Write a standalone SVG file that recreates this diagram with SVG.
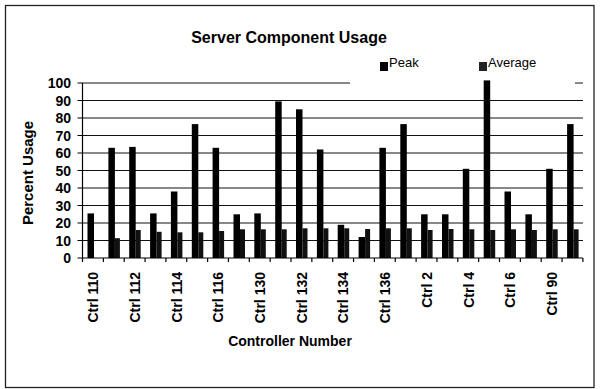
<svg xmlns="http://www.w3.org/2000/svg" width="600" height="389" viewBox="0 0 600 389">
<style>
.t{font-family:"Liberation Sans",Arial,sans-serif;fill:#000}
.b{font-weight:bold}
.grid{stroke:#111;stroke-width:1;fill:none}
.ax{stroke:#000;stroke-width:1.2;fill:none}
.pk{fill:#000}
.av{fill:#111}
</style>
<rect x="5.5" y="5.5" width="588.5" height="382" fill="#fff" stroke="#222" stroke-width="1.3"/>
<g id="title"><text class="t b" x="289" y="43" font-size="16" text-anchor="middle">Server Component Usage</text></g>
<g id="legend">
<rect x="380" y="62" width="8" height="9" class="pk"/>
<text class="t" x="389" y="67" font-size="13">Peak</text>
<rect x="479" y="62" width="8" height="9" fill="#222"/>
<text class="t" x="488" y="67" font-size="13">Average</text>
</g>
<g id="gridlines" class="grid">
<line x1="82.5" y1="83" x2="350" y2="83"/>
<line x1="575" y1="83" x2="583" y2="83"/>
<line x1="82.5" y1="100.5" x2="583" y2="100.5"/>
<line x1="82.5" y1="118" x2="583" y2="118"/>
<line x1="82.5" y1="135.5" x2="583" y2="135.5"/>
<line x1="82.5" y1="153" x2="583" y2="153"/>
<line x1="82.5" y1="170.5" x2="583" y2="170.5"/>
<line x1="82.5" y1="188" x2="583" y2="188"/>
<line x1="82.5" y1="205.5" x2="583" y2="205.5"/>
<line x1="82.5" y1="223" x2="583" y2="223"/>
<line x1="82.5" y1="240.5" x2="583" y2="240.5"/>
</g>
<g id="bars">
<rect class="pk" x="87.5" y="213.4" width="6.5" height="44.6"/>
<rect class="pk" x="108.4" y="147.8" width="6.5" height="110.2"/><rect class="av" x="114.9" y="238.2" width="5" height="19.8"/>
<rect class="pk" x="129.2" y="146.9" width="6.5" height="111.1"/><rect class="av" x="135.7" y="230" width="5" height="28"/>
<rect class="pk" x="150.1" y="213.4" width="6.5" height="44.6"/><rect class="av" x="156.6" y="231.8" width="5" height="26.2"/>
<rect class="pk" x="170.9" y="191.5" width="6.5" height="66.5"/><rect class="av" x="177.4" y="232.3" width="5" height="25.7"/>
<rect class="pk" x="191.8" y="124.1" width="6.5" height="133.9"/><rect class="av" x="198.3" y="232.3" width="5" height="25.7"/>
<rect class="pk" x="212.6" y="147.8" width="6.5" height="110.2"/><rect class="av" x="219.1" y="231" width="5" height="27"/>
<rect class="pk" x="233.5" y="214.3" width="6.5" height="43.7"/><rect class="av" x="240" y="229.3" width="5" height="28.7"/>
<rect class="pk" x="254.3" y="213.4" width="6.5" height="44.6"/><rect class="av" x="260.8" y="229.3" width="5" height="28.7"/>
<rect class="pk" x="275.2" y="101.4" width="6.5" height="156.6"/><rect class="av" x="281.7" y="229.3" width="5" height="28.7"/>
<rect class="pk" x="296" y="109.3" width="6.5" height="148.7"/><rect class="av" x="302.5" y="228.3" width="5" height="29.7"/>
<rect class="pk" x="316.9" y="149.5" width="6.5" height="108.5"/><rect class="av" x="323.4" y="228.3" width="5" height="29.7"/>
<rect class="pk" x="337.7" y="224.8" width="6.5" height="33.2"/><rect class="av" x="344.2" y="228.3" width="5" height="29.7"/>
<rect class="pk" x="358.6" y="237" width="6.5" height="21"/><rect class="av" x="365.1" y="229" width="5" height="29"/>
<rect class="pk" x="379.4" y="147.8" width="6.5" height="110.2"/><rect class="av" x="385.9" y="228.3" width="5" height="29.7"/>
<rect class="pk" x="400.3" y="124.1" width="6.5" height="133.9"/><rect class="av" x="406.8" y="228.3" width="5" height="29.7"/>
<rect class="pk" x="421.1" y="214.3" width="6.5" height="43.7"/><rect class="av" x="427.6" y="230" width="5" height="28"/>
<rect class="pk" x="442" y="214.3" width="6.5" height="43.7"/><rect class="av" x="448.5" y="229" width="5" height="29"/>
<rect class="pk" x="462.8" y="168.8" width="6.5" height="89.2"/><rect class="av" x="469.3" y="229.3" width="5" height="28.7"/>
<rect class="pk" x="483.7" y="80.4" width="6.5" height="177.6"/><rect class="av" x="490.2" y="230" width="5" height="28"/>
<rect class="pk" x="504.5" y="191.5" width="6.5" height="66.5"/><rect class="av" x="511" y="229.3" width="5" height="28.7"/>
<rect class="pk" x="525.4" y="214.3" width="6.5" height="43.7"/><rect class="av" x="531.9" y="230" width="5" height="28"/>
<rect class="pk" x="546.2" y="168.8" width="6.5" height="89.2"/><rect class="av" x="552.7" y="229.3" width="5" height="28.7"/>
<rect class="pk" x="567.1" y="124.1" width="6.5" height="133.9"/><rect class="av" x="573.6" y="229.3" width="5" height="28.7"/>
</g>
<g id="axes" class="ax">
<line x1="82.5" y1="83" x2="82.5" y2="258"/>
<line x1="82.5" y1="258" x2="583" y2="258"/>
<path d="M77.5 83H82.5M77.5 100.5H82.5M77.5 118H82.5M77.5 135.5H82.5M77.5 153H82.5M77.5 170.5H82.5M77.5 188H82.5M77.5 205.5H82.5M77.5 223H82.5M77.5 240.5H82.5M77.5 258H82.5"/>
<path d="M82.5 258V262M103.35 258V262M124.2 258V262M145.05 258V262M165.9 258V262M186.75 258V262M207.6 258V262M228.45 258V262M249.3 258V262M270.15 258V262M291 258V262M311.85 258V262M332.7 258V262M353.55 258V262M374.4 258V262M395.25 258V262M416.1 258V262M436.95 258V262M457.8 258V262M478.65 258V262M499.5 258V262M520.35 258V262M541.2 258V262M562.05 258V262M582.9 258V262"/>
</g>
<g id="y-labels" class="t b" font-size="14" text-anchor="end">
<text x="71" y="88">100</text>
<text x="71" y="105.5">90</text>
<text x="71" y="123">80</text>
<text x="71" y="140.5">70</text>
<text x="71" y="158">60</text>
<text x="71" y="175.5">50</text>
<text x="71" y="193">40</text>
<text x="71" y="210.5">30</text>
<text x="71" y="228">20</text>
<text x="71" y="245.5">10</text>
<text x="71" y="263">0</text>
</g>
<g id="y-title"><text class="t b" font-size="15" text-anchor="middle" transform="translate(33,173) rotate(-90)">Percent Usage</text></g>
<g id="x-labels" class="t b" font-size="14" text-anchor="end">
<text transform="translate(93.2,272) rotate(-90)" y="5">Ctrl 110</text>
<text transform="translate(134.9,272) rotate(-90)" y="5">Ctrl 112</text>
<text transform="translate(176.6,272) rotate(-90)" y="5">Ctrl 114</text>
<text transform="translate(218.3,272) rotate(-90)" y="5">Ctrl 116</text>
<text transform="translate(260,272) rotate(-90)" y="5">Ctrl 130</text>
<text transform="translate(301.7,272) rotate(-90)" y="5">Ctrl 132</text>
<text transform="translate(343.4,272) rotate(-90)" y="5">Ctrl 134</text>
<text transform="translate(385.1,272) rotate(-90)" y="5">Ctrl 136</text>
<text transform="translate(426.8,272) rotate(-90)" y="5">Ctrl 2</text>
<text transform="translate(468.5,272) rotate(-90)" y="5">Ctrl 4</text>
<text transform="translate(510.2,272) rotate(-90)" y="5">Ctrl 6</text>
<text transform="translate(551.9,272) rotate(-90)" y="5">Ctrl 90</text>
</g>
<g id="x-title"><text class="t b" x="290" y="346" font-size="14" text-anchor="middle">Controller Number</text></g>
</svg>
